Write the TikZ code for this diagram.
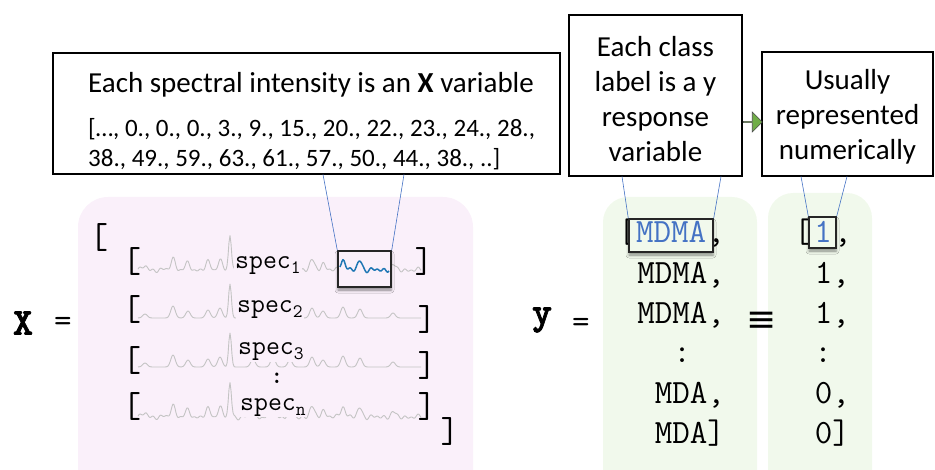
\documentclass[tikz,border=0pt]{standalone}
\usepackage{fontspec}
\setmainfont{Carlito}
\newfontfamily\symf{DejaVu Sans}
\newfontfamily\ttbold{lmmonolt10-bold.otf}[FakeBold=2]
\usetikzlibrary{shadows.blur,shapes.arrows}
\definecolor{pinkbg}{RGB}{250,240,250}
\definecolor{greenbg}{RGB}{241,249,236}
\definecolor{specgray}{RGB}{196,196,196}
\definecolor{linkblue}{RGB}{68,114,196}
\definecolor{specblue}{RGB}{31,119,180}
\definecolor{arrowgreen}{RGB}{112,173,71}
\tikzset{
  callout/.style={draw=black, line width=1.6pt, fill=white, inner sep=0pt},
  boxtext/.style={inner sep=0pt, font=\fontsize{29}{29}\selectfont},
  numtext/.style={inner sep=0pt, font=\fontsize{25}{25}\selectfont},
  linktext/.style={inner sep=0pt, align=center, font=\fontsize{29}{35}\selectfont},
  link/.style={draw=linkblue, line width=0.6pt},
  hlbox/.style={draw=black!85, line width=1.4pt, inner sep=0pt,
     blur shadow={shadow xshift=0pt, shadow yshift=-3pt, shadow blur radius=3pt, shadow opacity=45}},
  mono/.style={inner sep=0pt, font=\ttfamily\fontsize{34}{34}\selectfont},
  brk/.style={inner sep=0pt, font=\ttfamily\fontsize{36}{36}\selectfont},
  spectxt/.style={inner sep=1pt, fill=pinkbg, font=\ttfamily\fontsize{27}{27}\selectfont},
  bigmono/.style={inner sep=0pt, font=\ttbold\fontsize{38}{38}\selectfont},
  eqsign/.style={inner sep=0pt, font=\ttfamily\fontsize{34}{34}\selectfont},
  specline/.style={draw=specgray, line width=0.9pt, line join=round},
  declare function={
    pk(\x,\a,\h)=\h*exp(-(min(abs(\x-\a),12)/3.2)^2);
    pb(\x)=34*exp(-(min(abs(\x-230),9)/2)^2);
    sp(\x)=pk(\x,145,4)+pk(\x,173,12)+pk(\x,188,7)+pk(\x,208,8)+pk(\x,220,10)+pb(\x)+pk(\x,253,8)+pk(\x,273,10)+pk(\x,290,7)+pk(\x,312,10)+pk(\x,323,7)+pk(\x,343,11)+pk(\x,360,9)+pk(\x,393,5);
    nz(\x)=1.2*sin(53*(\x-138))+1.0*sin(31*(\x-138)+40)+0.8*sin(17*(\x-138)+10);
  }
}
\newcommand{\subn}[1]{\raisebox{-5pt}{\fontsize{19}{19}\selectfont #1}}
\begin{document}
\begin{tikzpicture}[x=1pt,y=-1pt]
\useasboundingbox (0,0) rectangle (935,470);
% background regions
\fill[pinkbg, rounded corners=30pt] (78,197) rectangle (473,500);
\fill[greenbg, rounded corners=25pt] (603,197) rectangle (757,500);
\fill[greenbg, rounded corners=25pt] (768,193) rectangle (872,500);

% spectra
\draw[specline] plot[domain=138:421, samples=284] (\x,{270-sp(\x)-nz(\x)});
\draw[specline] plot[domain=138:421, samples=284] (\x,{318-sp(\x)});
\draw[specline] plot[domain=138:421, samples=284] (\x,{367-sp(\x)});
\draw[specline] plot[domain=138:421, samples=284] (\x,{417-sp(\x)-nz(\x)});

\node[spectxt, anchor=base west] (s1) at (234,269) {spec\subn{1}};
\node[spectxt, anchor=base west] (s2) at (236,313) {spec\subn{2}};
\node[spectxt, anchor=base west] (s3) at (237,355) {spec\subn{3}};
\node[inner sep=0pt, font=\ttfamily\bfseries\fontsize{24}{24}\selectfont] (sdots) at (277,378) {:};
\node[spectxt, anchor=base west] (sn) at (239,410) {spec\subn{n}};

% brackets
\node[brk] (ob) at (99,238) {[};
\node[brk] (r1o) at (132,262) {[};
\node[brk] (r2o) at (132,310) {[};
\node[brk] (r3o) at (132,361) {[};
\node[brk] (rno) at (132,407) {[};
\node[brk] (r1c) at (424,262) {]};
\node[brk] (r2c) at (427,320) {]};
\node[brk] (r3c) at (427,366) {]};
\node[brk] (rnc) at (427,407) {]};
\node[brk] (cb) at (450,432) {]};

% highlighted part of spectrum 1
\node[hlbox, fill=pinkbg, minimum width=53pt, minimum height=36pt] (hx) at (364.5,269) {};
\draw[specblue, line width=1.5pt, line join=round] plot[domain=340:389, samples=50] (\x,{270-sp(\x)-nz(\x)});

% X = and y =
\node[bigmono] (xl) at (23,323) {X};
\node[eqsign] (xe) at (63,324) {=};
\node[bigmono] (yl) at (542,320) {y};
\node[eqsign] (ye) at (581,325) {=};
\node[inner sep=0pt, font=\symf\fontsize{36}{36}\selectfont] (eqv) at (762,322) {≡};

% y column
\node[mono, anchor=base west] (y1o) at (617.9,243) {[};
\node[mono, anchor=base west] (y1c) at (707.2,243) {,};
\node[mono, anchor=base east] (y2) at (725,284) {MDMA,};
\node[mono, anchor=base east] (y3) at (725,324) {MDMA,};
\node[mono, anchor=base] (y4) at (682,363) {:};
\node[mono, anchor=base east] (y5) at (725,403) {MDA,};
\node[mono, anchor=base east] (y6) at (725,443) {MDA]};
\node[hlbox, fill=greenbg, minimum width=84pt, minimum height=33pt] (hy) at (671,235.5) {};
\node[mono, anchor=base west, text=linkblue] (y1b) at (635.8,243) {MDMA};

% numeric column
\node[mono, anchor=base west] (z1o) at (794,243) {[};
\node[mono, anchor=base west] (z1c) at (834,243) {,};
\node[mono, anchor=base east] (z2) at (850,284) {1,};
\node[mono, anchor=base east] (z3) at (850,324) {1,};
\node[mono, anchor=base] (z4) at (823,363) {:};
\node[mono, anchor=base east] (z5) at (850,403) {0,};
\node[mono, anchor=base east] (z6) at (850,443) {0]};
\node[hlbox, fill=greenbg, minimum width=27pt, minimum height=31pt] (hz) at (822.5,232.5) {};
\node[mono, anchor=base, text=linkblue] (z1b) at (823,243) {1};

% callout boxes
\node[callout, minimum width=507pt, minimum height=121pt] (b1) at (306.5,113.5) {};
\node[boxtext, anchor=base west] (t1) at (88,93) {Each spectral intensity is an \textbf{X} variable};
\node[numtext, anchor=base west] (t1a) at (88,137) {[…, 0., 0., 0., 3., 9., 15., 20., 22., 23., 24., 28.,};
\node[numtext, anchor=base west] (t1b) at (88,167) {38., 49., 59., 63., 61., 57., 50., 44., 38., ..]};

\node[callout, minimum width=173pt, minimum height=161pt] (b2) at (655.5,95.5) {};
\node[linktext] (t2) at (655.5,99) {Each class\\label is a y\\response\\variable};

\node[callout, minimum width=171pt, minimum height=124pt] (b3) at (847.5,114) {};
\node[linktext] (t3) at (847.5,117) {Usually\\represented\\numerically};

\node[single arrow, fill=arrowgreen, draw=black!70, line width=0.6pt, minimum height=19pt, minimum width=20pt, single arrow head extend=5pt, inner sep=0pt] (arr) at (752.5,122) {};

% connectors
\coordinate (c1l) at (323,174.5);
\coordinate (c1r) at (404,174.5);
\coordinate (c2l) at (622,176.5);
\coordinate (c2r) at (721,176.5);
\coordinate (c3l) at (801,176.5);
\coordinate (c3r) at (847,176.5);
\draw[link] (c1l) -- (hx.north west);
\draw[link] (c1r) -- (hx.north east);
\draw[link] (c2l) -- (hy.north west);
\draw[link] (c2r) -- (hy.north east);
\draw[link] (c3l) -- (hz.north west);
\draw[link] (c3r) -- (hz.north east);
\end{tikzpicture}
\end{document}
